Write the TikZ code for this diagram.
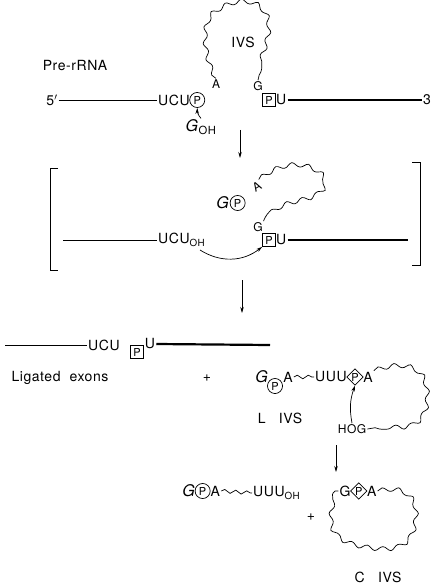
\documentclass[tikz,border=0pt]{standalone}
\usepackage{fontspec}
\setmainfont{TeX Gyre Heros}[LetterSpace=4]
\usepackage{tikz}
\usetikzlibrary{positioning,shapes.geometric,decorations.pathmorphing,arrows.meta}

\begin{document}
\begin{tikzpicture}[x=1pt,y=-1pt,
    every node/.style={font=\fontsize{14}{16}\selectfont, inner sep=1pt},
    lbl/.style={font=\fontsize{12}{14}\selectfont},
    circP/.style={circle, draw, line width=0.7pt, inner sep=1.5pt, font=\fontsize{11}{12}\selectfont},
    boxP/.style={rectangle, draw, line width=0.7pt, inner sep=0.5pt, minimum size=13pt, font=\fontsize{11}{12}\selectfont},
    diaP/.style={diamond, draw, line width=0.7pt, inner sep=0.3pt, aspect=1, font=\fontsize{11}{12}\selectfont},
    thinexon/.style={line width=0.6pt},
    thickexon/.style={line width=2.2pt},
    wavy/.style={line width=0.7pt, decorate, decoration={snake, segment length=16pt, amplitude=2.2pt}},
    tilde/.style={line width=0.7pt, decorate, decoration={snake, segment length=11pt, amplitude=1.8pt}},
    arr/.style={line width=0.7pt, -{Stealth[length=6pt,width=3.5pt]}}]
  \useasboundingbox (0,0) rectangle (433,588);

  % Pre-rRNA
  \node (pre) at (75,66) {Pre-rRNA};
  \node (five) at (52,100) {5$'$};
  \node[anchor=west] (ucu1) at (157,100) {UCU};
  \node[circP, right=-1.5pt of ucu1] (p1) {P};
  \node[lbl] (a1) at (216,84) {A};
  \node[lbl] (g1) at (258,86) {G};
  \node[boxP] (p2) at (269,100) {P};
  \node[anchor=west] (u2) at (275,100) {U};
  \node (three) at (427,100) {3};
  \node (ivs1) at (243,42) {IVS};
  \node (goh) at (201,127) {\fontsize{16}{18}\selectfont\textit{G}\textsubscript{OH}};
  \draw[thinexon] (five.east) -- (ucu1.west);
  \draw[thickexon] (u2.east) -- (three.west);
  \draw[wavy] (a1.north) .. controls (206,60) and (200,20) .. (222,12)
    .. controls (238,2) and (258,2) .. (266,14)
    .. controls (280,32) and (262,60) .. (g1.north);
  \draw[arr] (goh.north) to[bend left=20] (p1.south);
  \coordinate (s1) at (240,130);
  \coordinate (e1) at (240,158);
  \draw[arr] (s1) -- (e1);

  % intermediate
  \draw[line width=0.8pt] (58,168) -- (50,168) -- (50,270) -- (58,270);
  \draw[line width=0.8pt] (412,162) -- (420,162) -- (420,265) -- (412,265);
  \coordinate (l2) at (63,240);
  \node[anchor=west] (ucu2) at (157,240) {UCU\textsubscript{OH}};
  \node[lbl] (g2) at (258,227) {G};
  \node[boxP] (p3) at (269,240) {P};
  \node[anchor=west] (u3) at (275,240) {U};
  \coordinate (r2) at (408,240);
  \node (g3) at (223,203) {\fontsize{16}{18}\selectfont\textit{G}};
  \node[circP, right=-1pt of g3] (p4) {P};
  \node[lbl, rotate=30] (a2) at (257,187) {A};
  \draw[thinexon] (l2) -- (ucu2.west);
  \draw[thickexon] (u3.east) -- (r2);
  \draw[wavy] (a2.north east) .. controls (282,162) and (305,165) .. (318,176)
    .. controls (328,188) and (318,198) .. (300,202)
    .. controls (282,206) and (270,210) .. (g2.north east);
  \draw[arr] (200,250) to[bend right=35] (p3.south west);
  \coordinate (s2) at (242,280);
  \coordinate (e2) at (242,313);
  \draw[arr] (s2) -- (e2);

  % ligated exons and L IVS
  \coordinate (l3) at (5,345);
  \node[anchor=west] (ucu3) at (87,345) {UCU};
  \node[boxP] (p5) at (137,352) {P};
  \node (u4) at (150,344) {U};
  \coordinate (r3) at (270,345);
  \draw[thinexon] (l3) -- (ucu3.west);
  \draw[thickexon] (u4.east) -- (r3);
  \node (lig) at (60,378) {Ligated\ \ exons};
  \node (plus1) at (207,378) {+};

  \node (g5) at (262,377) {\fontsize{16}{18}\selectfont\textit{G}};
  \node[circP] (p6) at (275,386) {P};
  \node (a3) at (288,377) {A};
  \node[anchor=west] (uuu1) at (314,377) {UUU};
  \node[diaP, right=-1.5pt of uuu1] (p7) {P};
  \node[right=-1.5pt of p7] (a4) {A};
  \node[lbl] (hog) at (352,429) {HOG};
  \node (livs) at (280,418) {L\ \ \ IVS};
  \draw[tilde] (a3.east) -- (uuu1.west);
  \draw[wavy] (a4.north east) .. controls (400,362) and (418,368) .. (422,385)
    .. controls (426,400) and (424,425) .. (402,428)
    .. controls (388,430) and (376,426) .. (hog.east);
  \draw[arr] (hog.north) to[bend left=15] (p7.south);
  \coordinate (s3) at (336,445);
  \coordinate (e3) at (336,472);
  \draw[arr] (s3) -- (e3);

  % products
  \node (g6) at (189,491) {\fontsize{16}{18}\selectfont\textit{G}};
  \node[circP, right=-2pt of g6] (p8) {P};
  \node[right=-1pt of p8] (a5) {A};
  \node[anchor=west] (uuu2) at (252,493) {UUU\textsubscript{OH}};
  \draw[tilde] (a5.east) -- (uuu2.west);
  \node (plus2) at (311,517) {+};
  \node (g7) at (345,491) {G};
  \node[diaP, right=-1.5pt of g7] (p9) {P};
  \node[right=-1.5pt of p9] (a6) {A};
  \draw[wavy] (a6.east) .. controls (402,486) and (414,500) .. (412,518)
    .. controls (410,545) and (395,552) .. (370,549)
    .. controls (345,546) and (326,540) .. (327,518)
    .. controls (328,500) and (334,490) .. (g7.west);
  \node (civs) at (378,577) {C\ \ \ IVS};
\end{tikzpicture}
\end{document}
